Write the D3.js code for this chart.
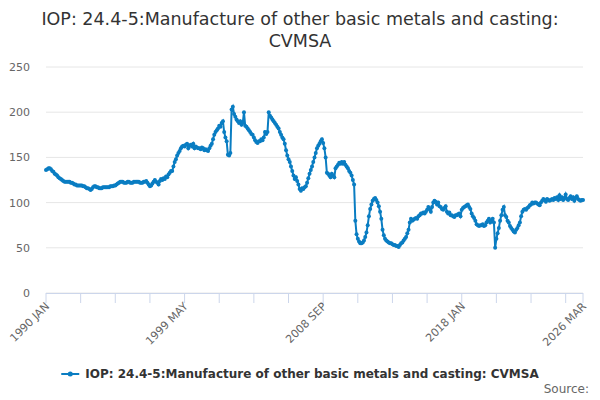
<!DOCTYPE html>
<html>
<head>
<meta charset="UTF-8">
<style>
  body { margin: 0; background: #fff; font-family: "DejaVu Sans", sans-serif; }
</style>
</head>
<body>
<svg width="600" height="400"></svg>
<script src="https://cdn.jsdelivr.net/npm/d3@7"></script>
<script>
// monthly values, starting 1990 JAN
const startYear = 1990;
const values = [
  136,137,138,138,137,135,134,132,131,130,128,127,
  126,125,124,123,123,123,123,123,122,122,121,120,
  120,119,119,119,119,119,118,118,117,116,116,115,
  114,115,117,118,118,117,117,116,116,116,117,117,
  117,117,117,117,118,118,118,119,119,120,121,122,
  123,123,123,122,122,122,123,123,122,122,122,123,
  123,123,123,123,122,122,122,123,123,124,122,120,
  118,119,121,123,125,123,122,120,124,126,125,127,
  126,129,128,131,133,135,135,140,145,148,152,155,
  157,160,162,163,162,164,165,160,163,164,162,165,
  160,162,161,160,160,159,161,160,158,159,158,157,
  160,163,165,170,175,178,180,182,185,184,188,190,
  178,172,168,153,152,155,203,206,198,195,192,190,
  188,190,186,188,200,185,184,182,180,178,176,175,
  172,169,167,166,168,168,170,169,172,178,176,178,
  200,196,194,192,190,188,186,184,182,178,175,172,
  170,165,158,152,148,145,140,135,130,126,128,124,
  120,115,113,116,115,117,118,122,127,132,136,140,
  145,150,155,160,163,165,168,170,166,160,150,133,
  132,130,128,132,130,128,138,140,142,144,143,145,
  143,145,142,140,138,135,133,130,125,120,80,65,
  60,57,55,55,56,58,62,67,75,85,93,98,
  102,104,105,103,100,96,90,82,70,64,60,58,
  57,56,55,55,54,53,53,52,52,51,53,55,
  56,58,60,62,66,70,78,82,80,81,82,83,
  82,85,86,88,88,89,88,90,92,95,93,90,
  95,100,102,101,98,100,96,95,93,92,94,96,
  90,88,89,86,86,85,84,86,86,87,88,85,
  92,94,95,96,97,98,95,93,88,85,83,80,
  76,75,74,75,75,76,74,75,78,80,82,78,
  80,82,78,50,60,66,72,80,86,92,95,86,
  84,80,78,74,72,70,68,67,70,72,75,78,
  85,90,92,93,92,94,95,97,98,100,99,100,
  100,99,98,97,100,102,104,103,101,104,103,102,
  103,104,103,105,104,106,103,108,104,106,103,105,
  109,104,103,105,107,104,106,102,105,107,104,103,
  102,103,103
];
const months = ["JAN","FEB","MAR","APR","MAY","JUN","JUL","AUG","SEP","OCT","NOV","DEC"];
const labels = values.map((v, i) => (startYear + Math.floor(i / 12)) + " " + months[i % 12]);
const yTicks = [0, 50, 100, 150, 200, 250];
const seriesName = "IOP: 24.4-5:Manufacture of other basic metals and casting: CVMSA";
const color = "#0a7dc2";

const svg = d3.select("svg");
const margin = {left: 46, right: 17, top: 67, bottom: 107};
const W = 600, H = 400;

const x = d3.scaleLinear().domain([0, values.length - 1]).range([margin.left, W - margin.right]);
const y = d3.scaleLinear().domain([0, 250]).range([H - margin.bottom, margin.top]);

// title
svg.append("text").attr("x", 300).attr("y", 25).attr("text-anchor", "middle")
  .attr("font-size", 17.5).attr("fill", "#333")
  .text("IOP: 24.4-5:Manufacture of other basic metals and casting:");
svg.append("text").attr("x", 300).attr("y", 47).attr("text-anchor", "middle")
  .attr("font-size", 17.5).attr("fill", "#333").text("CVMSA");

// grid + y labels
svg.append("g").selectAll("line").data(yTicks).enter().append("line")
  .attr("x1", margin.left).attr("x2", W - margin.right)
  .attr("y1", d => y(d)).attr("y2", d => y(d))
  .attr("stroke", "#e6e6e6");
svg.append("g").selectAll("text").data(yTicks).enter().append("text")
  .attr("x", 30).attr("y", d => y(d) + 4).attr("text-anchor", "end")
  .attr("font-size", 11).attr("fill", "#666").text(d => d);

// x axis
const baseY = y(0);
svg.append("line").attr("x1", margin.left).attr("x2", W - margin.right)
  .attr("y1", baseY + 0.5).attr("y2", baseY + 0.5).attr("stroke", "#ccd6eb");
const tickIdx = d3.range(0, values.length, 28).concat([values.length - 1]);
svg.append("g").selectAll("line").data(tickIdx).enter().append("line")
  .attr("x1", d => x(d)).attr("x2", d => x(d))
  .attr("y1", baseY).attr("y2", baseY + 10).attr("stroke", "#ccd6eb");
const labelIdx = [0, 112, 224, 336, values.length - 1];
svg.append("g").selectAll("text").data(labelIdx).enter().append("text")
  .attr("transform", d => `translate(${x(d) + 4},${baseY + 14}) rotate(-45)`)
  .attr("text-anchor", "end").attr("font-size", 11).attr("fill", "#666")
  .text(d => labels[d]);

// series
const line = d3.line().x((d, i) => x(i)).y(d => y(d));
svg.append("path").datum(values).attr("d", line)
  .attr("fill", "none").attr("stroke", color).attr("stroke-width", 2);
svg.append("g").selectAll("circle").data(values).enter().append("circle")
  .attr("cx", (d, i) => x(i)).attr("cy", d => y(d)).attr("r", 2).attr("fill", color);

// legend
const lg = svg.append("g").attr("transform", "translate(300,373)");
const lt = lg.append("text").attr("x", 0).attr("y", 5).attr("font-size", 12)
  .attr("font-weight", "bold").attr("fill", "#333").text(seriesName);
const tw = lt.node().getComputedTextLength();
const total = tw + 24;
lt.attr("x", -total / 2 + 24);
lg.append("line").attr("x1", -total / 2).attr("x2", -total / 2 + 18)
  .attr("y1", 1).attr("y2", 1).attr("stroke", color).attr("stroke-width", 2);
lg.append("circle").attr("cx", -total / 2 + 9).attr("cy", 1).attr("r", 2.5).attr("fill", color);

svg.append("text").attr("x", 589).attr("y", 393).attr("text-anchor", "end")
  .attr("font-size", 12).attr("fill", "#666").text("Source:");
</script>
</body>
</html>
